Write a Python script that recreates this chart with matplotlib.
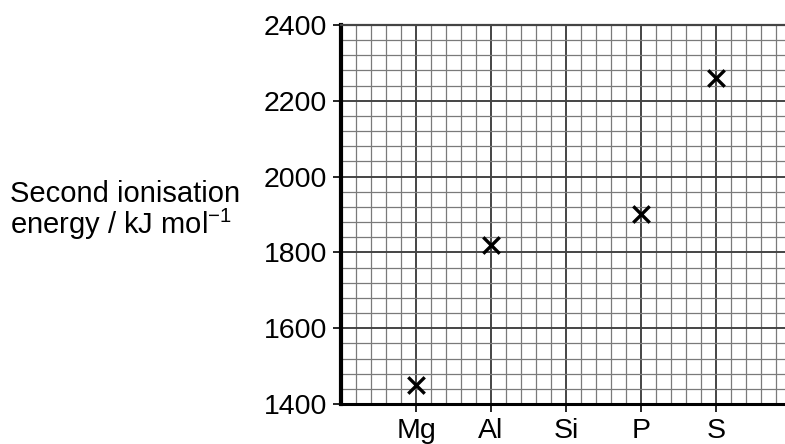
import matplotlib.pyplot as plt
from matplotlib.ticker import MultipleLocator

plt.rcParams['font.family'] = ['Liberation Sans', 'DejaVu Sans']

elements = ['Mg', 'Al', 'Si', 'P', 'S']
positions = [1, 2, 3, 4, 5]
plotted_x = [1, 2, 4, 5]
energies = [1450, 1820, 1900, 2260]
y_ticks = [1400, 1600, 1800, 2000, 2200, 2400]

fig = plt.figure(figsize=(7.85, 4.44), dpi=100)
ax = fig.add_axes([0.4344, 0.0901, 0.5656, 0.8536])

ax.set_xlim(0, 5.92)
ax.set_ylim(1400, 2400)

# graph paper grid
ax.xaxis.set_minor_locator(MultipleLocator(0.2))
ax.yaxis.set_minor_locator(MultipleLocator(40))
ax.set_xticks(positions)
ax.set_xticklabels(elements)
ax.set_yticks(y_ticks)
ax.grid(which='minor', color='#7a7a7a', linewidth=0.9)
ax.grid(which='major', color='#444444', linewidth=1.4)
ax.set_axisbelow(True)

ax.scatter(plotted_x, energies, marker='x', s=140, color='black', linewidths=2.4, zorder=5)

ax.spines['right'].set_visible(False)
ax.spines['top'].set_color('#444444')
ax.spines['top'].set_linewidth(1.6)
ax.spines['left'].set_linewidth(3)
ax.spines['bottom'].set_linewidth(2.2)

ax.tick_params(axis='x', which='major', length=6, width=1.2, labelsize=20.5, pad=4)
ax.tick_params(axis='y', which='major', length=6, width=1.2, labelsize=20.5, pad=4)
ax.tick_params(which='minor', length=0)

fig.text(0.013, 0.525, 'Second ionisation\nenergy / kJ mol$^{\\mathregular{-1}}$',
         fontsize=21, ha='left', va='center', linespacing=0.98)

fig.savefig('out.png', dpi=100)
